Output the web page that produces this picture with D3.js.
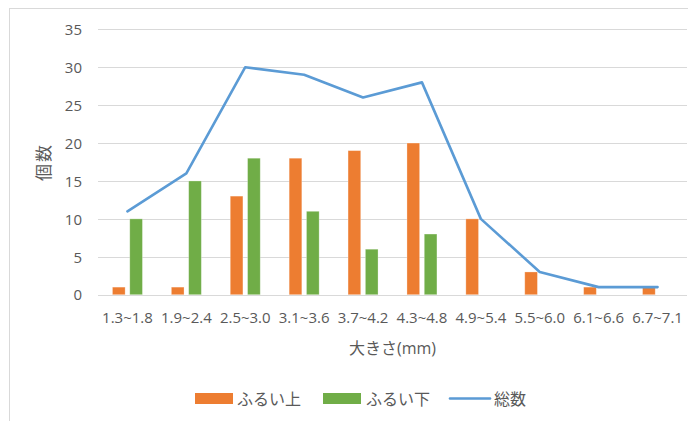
<!DOCTYPE html>
<html>
<head>
<meta charset="utf-8">
<script src="https://cdn.jsdelivr.net/npm/d3@7"></script>
<style>
  html, body { margin: 0; padding: 0; background: #fff; }
  svg { display: block; }
  text { font-family: "Open Sans", "Noto Sans CJK JP", sans-serif; fill: #595959; }
</style>
</head>
<body>
<svg id="chart" width="696" height="421"></svg>
<script>
// Size classes (mm)
const categories = ["1.3~1.8", "1.9~2.4", "2.5~3.0", "3.1~3.6", "3.7~4.2", "4.3~4.8", "4.9~5.4", "5.5~6.0", "6.1~6.6", "6.7~7.1"];
// Counts retained on the sieve
const above = [1, 1, 13, 18, 19, 20, 10, 3, 1, 1];
// Counts passing through the sieve
const below = [10, 15, 18, 11, 6, 8, 0, 0, 0, 0];
// Total counts
const total = [11, 16, 30, 29, 26, 28, 10, 3, 1, 1];
const yTicks = [0, 5, 10, 15, 20, 25, 30, 35];

const seriesNames = ["ふるい上", "ふるい下", "総数"];
const colors = { above: "#ED7D31", below: "#70AD47", total: "#5B9BD5" };

const svg = d3.select("#chart");

// Chart frame (top and left edges)
svg.append("line").attr("x1", 9).attr("x2", 688).attr("y1", 8.5).attr("y2", 8.5)
  .attr("stroke", "#D9D9D9").attr("stroke-width", 1);
svg.append("line").attr("x1", 9.5).attr("x2", 9.5).attr("y1", 8).attr("y2", 421)
  .attr("stroke", "#D9D9D9").attr("stroke-width", 1);

const plot = { left: 98, right: 687, top: 29.3, bottom: 294.7 };

const x = d3.scaleBand().domain(categories).range([plot.left, plot.right]).padding(0);
const y = d3.scaleLinear().domain([0, 35]).range([plot.bottom, plot.top]);

// Gridlines
svg.append("g").selectAll("line").data(yTicks).join("line")
  .attr("x1", plot.left).attr("x2", plot.right)
  .attr("y1", d => Math.round(y(d)) + 0.5).attr("y2", d => Math.round(y(d)) + 0.5)
  .attr("stroke", "#D9D9D9").attr("stroke-width", 1);

// Y axis labels
const yAxis = d3.axisLeft(y).tickValues(yTicks).tickSize(0).tickPadding(0);
const gy = svg.append("g").attr("transform", `translate(82,0)`).call(yAxis);
gy.select(".domain").remove();
gy.selectAll("text").attr("font-size", 15).attr("dy", "0.35em")
  .style("font-family", "'Open Sans', sans-serif").attr("fill", "#595959");

// X axis labels
const xAxis = d3.axisBottom(x).tickSize(0).tickPadding(0);
const gx = svg.append("g").attr("transform", `translate(0,318)`).call(xAxis);
gx.select(".domain").remove();
gx.selectAll("text").attr("font-size", 15).attr("dy", "0.35em")
  .style("font-family", "'Open Sans', sans-serif").attr("fill", "#595959");

// Bars
const bw = x.bandwidth() * 0.215;
const off = x.bandwidth() * 0.147;
function drawBars(values, color, dir) {
  svg.append("g").selectAll("rect").data(values).join("rect")
    .attr("x", (d, i) => x(categories[i]) + x.bandwidth() / 2 + dir * off - bw / 2)
    .attr("y", d => y(d))
    .attr("width", bw)
    .attr("height", d => y(0) - y(d))
    .attr("fill", color)
    .attr("stroke", "#ffffff").attr("stroke-opacity", 0.35).attr("stroke-width", 0.8)
    .attr("display", d => d > 0 ? null : "none");
}
drawBars(above, colors.above, -1);
drawBars(below, colors.below, 1);

// Total line
const line = d3.line()
  .x((d, i) => x(categories[i]) + x.bandwidth() / 2)
  .y(d => y(d));
svg.append("path").datum(total)
  .attr("d", line)
  .attr("fill", "none")
  .attr("stroke", colors.total)
  .attr("stroke-width", 2.6)
  .attr("stroke-linejoin", "round")
  .attr("stroke-linecap", "round");

// Axis titles
svg.append("text")
  .attr("transform", "translate(44,162) rotate(-90)")
  .attr("text-anchor", "middle").attr("dy", "0.35em")
  .attr("font-size", 17).attr("letter-spacing", 2)
  .text("個数");
svg.append("text")
  .attr("x", (plot.left + plot.right) / 2).attr("y", 348)
  .attr("text-anchor", "middle").attr("dy", "0.35em")
  .attr("font-size", 16)
  .text("大きさ(mm)");

// Legend
const legY = 398.5;
const leg = svg.append("g");
leg.append("rect").attr("x", 195).attr("y", legY - 5.5).attr("width", 38).attr("height", 11).attr("fill", colors.above);
leg.append("text").attr("x", 237).attr("y", legY + 1).attr("dy", "0.35em").attr("font-size", 16).text(seriesNames[0]);
leg.append("rect").attr("x", 323).attr("y", legY - 5.5).attr("width", 38).attr("height", 11).attr("fill", colors.below);
leg.append("text").attr("x", 366).attr("y", legY + 1).attr("dy", "0.35em").attr("font-size", 16).text(seriesNames[1]);
leg.append("line").attr("x1", 450).attr("x2", 490).attr("y1", legY).attr("y2", legY)
  .attr("stroke", colors.total).attr("stroke-width", 2.6).attr("stroke-linecap", "round");
leg.append("text").attr("x", 494).attr("y", legY + 1).attr("dy", "0.35em").attr("font-size", 16).text(seriesNames[2]);
</script>
</body>
</html>
